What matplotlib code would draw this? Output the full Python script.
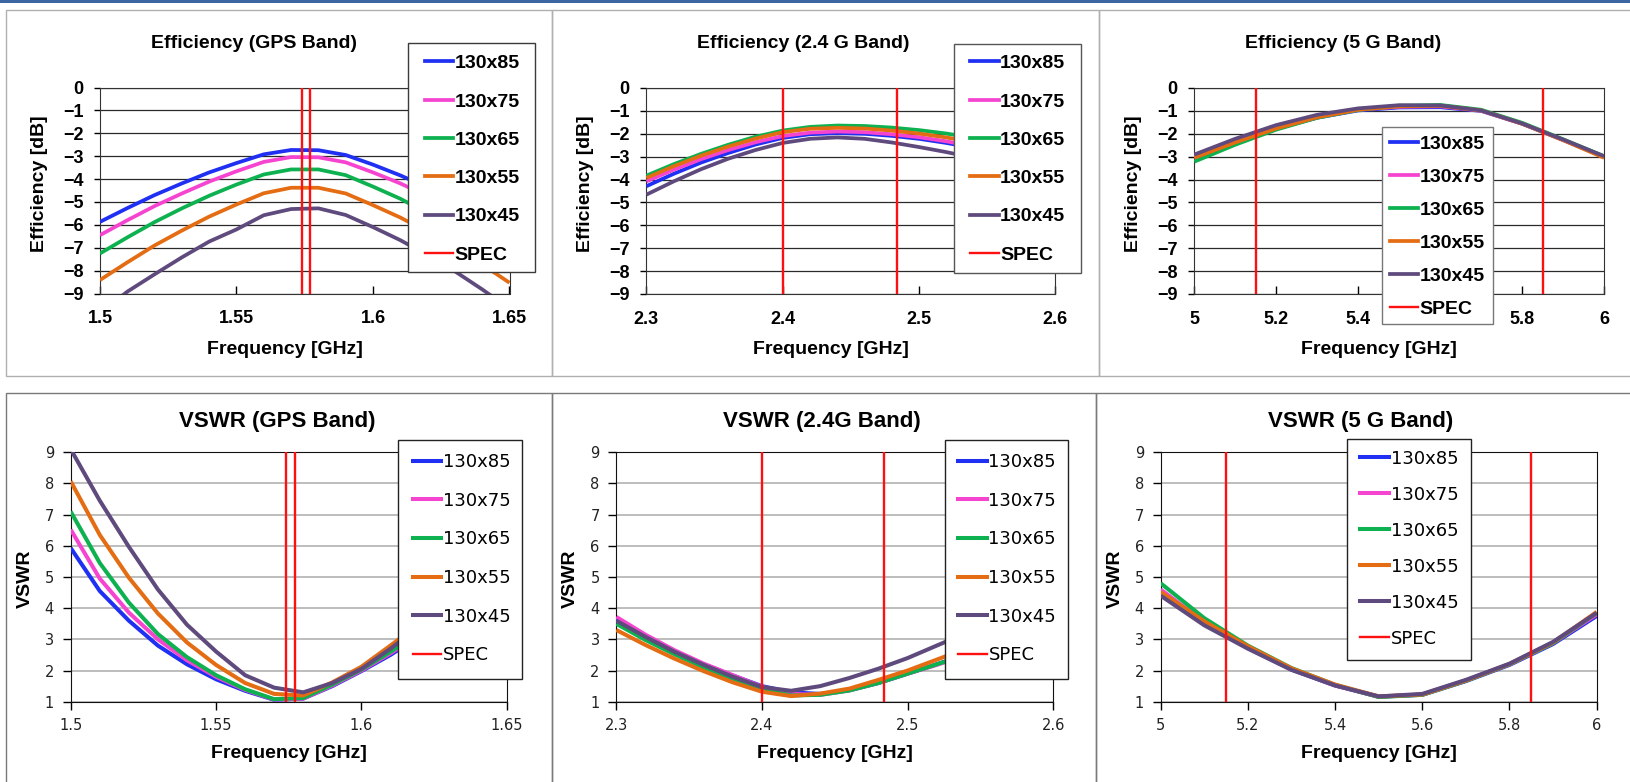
import matplotlib
matplotlib.use('Agg')
import matplotlib.pyplot as plt
from matplotlib.patches import Rectangle
from matplotlib.lines import Line2D

W, H = 1631, 782

names = ['130x85', '130x75', '130x65', '130x55', '130x45']
colors = ['#1f30f2', '#f545d0', '#0db14f', '#e46c12', '#5f4a7d']
spec_color = '#ff1010'

# ---- efficiency [dB] ----
gps_freq = [1.50, 1.51, 1.52, 1.53, 1.54, 1.55, 1.56, 1.57,
            1.58, 1.59, 1.60, 1.61, 1.62, 1.63, 1.64, 1.65]
gps_eff_85 = [-5.87, -5.27, -4.70, -4.19, -3.71, -3.30, -2.92, -2.73,
              -2.74, -2.95, -3.37, -3.84, -4.37, -4.94, -5.58, -6.25]
gps_eff_75 = [-6.45, -5.80, -5.18, -4.63, -4.11, -3.66, -3.25, -3.04,
              -3.05, -3.27, -3.71, -4.19, -4.75, -5.34, -6.01, -6.71]
gps_eff_65 = [-7.25, -6.55, -5.88, -5.28, -4.73, -4.24, -3.80, -3.58,
              -3.58, -3.83, -4.33, -4.86, -5.49, -6.15, -6.89, -7.68]
gps_eff_55 = [-8.41, -7.64, -6.90, -6.25, -5.64, -5.11, -4.62, -4.38,
              -4.38, -4.63, -5.14, -5.68, -6.31, -6.98, -7.73, -8.53]
gps_eff_45 = [-9.86, -8.92, -8.16, -7.42, -6.73, -6.20, -5.58, -5.31,
              -5.28, -5.57, -6.10, -6.67, -7.33, -8.03, -8.82, -9.66]

g24_freq = [2.30, 2.32, 2.34, 2.36, 2.38, 2.40, 2.42, 2.44,
            2.46, 2.48, 2.50, 2.52, 2.54, 2.56, 2.58, 2.60]
g24_eff_85 = [-4.29, -3.75, -3.26, -2.84, -2.47, -2.18, -2.02, -1.97,
              -2.00, -2.09, -2.22, -2.40, -2.62, -2.88, -3.17, -3.50]
g24_eff_75 = [-4.08, -3.57, -3.11, -2.71, -2.37, -2.10, -1.95, -1.90,
              -1.93, -2.02, -2.15, -2.33, -2.55, -2.80, -3.08, -3.40]
g24_eff_65 = [-3.83, -3.33, -2.88, -2.48, -2.13, -1.86, -1.70, -1.64,
              -1.66, -1.73, -1.84, -1.99, -2.18, -2.40, -2.66, -2.95]
g24_eff_55 = [-3.93, -3.42, -2.96, -2.56, -2.21, -1.93, -1.78, -1.74,
              -1.77, -1.86, -1.99, -2.16, -2.37, -2.61, -2.88, -3.18]
g24_eff_45 = [-4.66, -4.08, -3.55, -3.09, -2.71, -2.40, -2.22, -2.16,
              -2.22, -2.38, -2.58, -2.80, -3.05, -3.33, -3.63, -3.95]

g5_freq = [5.0, 5.1, 5.2, 5.3, 5.4, 5.5, 5.6, 5.7, 5.8, 5.9, 6.0]
g5_eff_85 = [-3.05, -2.38, -1.78, -1.30, -0.98, -0.85, -0.84, -1.00, -1.56, -2.27, -3.00]
g5_eff_75 = [-3.00, -2.33, -1.74, -1.27, -0.95, -0.82, -0.80, -0.99, -1.56, -2.27, -3.01]
g5_eff_65 = [-3.22, -2.48, -1.82, -1.30, -0.96, -0.78, -0.74, -0.95, -1.52, -2.24, -2.98]
g5_eff_55 = [-3.05, -2.38, -1.77, -1.28, -0.95, -0.80, -0.78, -0.98, -1.56, -2.28, -3.05]
g5_eff_45 = [-2.91, -2.22, -1.62, -1.17, -0.89, -0.75, -0.76, -0.98, -1.55, -2.25, -2.98]

# ---- VSWR ----
gps_vswr_85 = [5.93, 4.55, 3.60, 2.80, 2.20, 1.72, 1.35, 1.06,
               1.10, 1.50, 1.98, 2.50, 3.10, 3.75, 4.40, 5.10]
gps_vswr_75 = [6.52, 4.95, 3.86, 3.00, 2.33, 1.80, 1.38, 1.07,
               1.10, 1.52, 2.00, 2.55, 3.15, 3.80, 4.45, 5.15]
gps_vswr_65 = [7.10, 5.45, 4.18, 3.17, 2.43, 1.85, 1.40, 1.08,
               1.12, 1.55, 2.03, 2.60, 3.20, 3.85, 4.50, 5.20]
gps_vswr_55 = [8.07, 6.35, 4.98, 3.83, 2.90, 2.18, 1.60, 1.25,
               1.20, 1.62, 2.12, 2.80, 3.50, 4.20, 4.90, 5.60]
gps_vswr_45 = [9.10, 7.45, 5.97, 4.60, 3.47, 2.61, 1.85, 1.45,
               1.30, 1.60, 2.05, 2.70, 3.40, 4.10, 4.80, 5.50]

g24_vswr_85 = [3.65, 3.10, 2.62, 2.20, 1.84, 1.50, 1.30, 1.25,
               1.37, 1.60, 1.90, 2.20, 2.52, 2.87, 3.22, 3.60]
g24_vswr_75 = [3.72, 3.15, 2.65, 2.22, 1.85, 1.48, 1.25, 1.22,
               1.36, 1.60, 1.90, 2.18, 2.50, 2.85, 3.20, 3.60]
g24_vswr_65 = [3.50, 2.98, 2.52, 2.10, 1.73, 1.40, 1.20, 1.22,
               1.36, 1.60, 1.90, 2.20, 2.50, 2.85, 3.20, 3.58]
g24_vswr_55 = [3.30, 2.82, 2.38, 1.98, 1.62, 1.32, 1.18, 1.26,
               1.42, 1.70, 2.00, 2.35, 2.70, 3.05, 3.45, 3.85]
g24_vswr_45 = [3.60, 3.08, 2.60, 2.18, 1.80, 1.47, 1.35, 1.50,
               1.76, 2.06, 2.40, 2.80, 3.20, 3.60, 4.00, 4.40]

g5_vswr_85 = [4.45, 3.50, 2.72, 2.03, 1.52, 1.16, 1.22, 1.66, 2.18, 2.85, 3.75]
g5_vswr_75 = [4.60, 3.55, 2.74, 2.04, 1.52, 1.16, 1.23, 1.68, 2.20, 2.88, 3.80]
g5_vswr_65 = [4.80, 3.68, 2.80, 2.08, 1.54, 1.15, 1.22, 1.67, 2.20, 2.88, 3.85]
g5_vswr_55 = [4.52, 3.58, 2.78, 2.07, 1.55, 1.17, 1.23, 1.68, 2.21, 2.90, 3.88]
g5_vswr_45 = [4.40, 3.45, 2.70, 2.02, 1.52, 1.17, 1.25, 1.70, 2.22, 2.92, 3.85]

# band edges (SPEC)
gps_spec = [1.574, 1.577]
g24_spec = [2.4, 2.4835]
g5_spec = [5.15, 5.85]

gps_xticks = [1.5, 1.55, 1.6, 1.65]
g24_xticks = [2.3, 2.4, 2.5, 2.6]
g5_xticks = [5.0, 5.2, 5.4, 5.6, 5.8, 6.0]
eff_yticks = [0, -1, -2, -3, -4, -5, -6, -7, -8, -9]
vswr_yticks = [1, 2, 3, 4, 5, 6, 7, 8, 9]


def fig_rect(x0, y0, x1, y1):
    return [x0 / W, 1 - y1 / H, (x1 - x0) / W, (y1 - y0) / H]


def fig_xy(x, y):
    return (x / W, 1 - y / H)


fig = plt.figure(figsize=(W / 100, H / 100), dpi=100)

# window frames + blue strip at top
fig.add_artist(Rectangle((0, 1 - 3 / H), 1, 3 / H, transform=fig.transFigure,
                         facecolor='#3b66a3', edgecolor='none', zorder=-2))
for box, ec in [((6.5, 9.5, 552, 376), '#b0b0b0'), ((552, 9.5, 1099, 376), '#b0b0b0'),
                ((1099, 9.5, 1640, 376), '#b0b0b0'), ((6.5, 393, 552, 800), '#7a7a7a'),
                ((552.5, 393, 1096, 800), '#7a7a7a'), ((1096, 393, 1640, 800), '#7a7a7a')]:
    r = fig_rect(*box)
    fig.add_artist(Rectangle((r[0], r[1]), r[2], r[3], transform=fig.transFigure,
                             facecolor='none', edgecolor=ec, lw=1.0, zorder=-1))

top_font = dict(family='Liberation Sans', weight='bold')


def draw_panel(box, freq, curves, spec, xticks, yticks, top):
    ax = fig.add_axes(fig_rect(*box))
    lw = 2.7 if top else 2.9
    for vals, c in zip(curves, colors):
        ax.plot(freq, vals, color=c, lw=lw, solid_capstyle='butt', zorder=3)
    for s in spec:
        ax.axvline(s, color=spec_color, lw=1.7, zorder=4)
    ax.set_xlim(min(xticks), max(xticks))
    ax.set_ylim(min(yticks), max(yticks))
    xlab = ['%g' % v for v in xticks]
    ylab = [str(v).replace('-', '\u2212') for v in yticks]
    if top:
        ax.set_xticks(xticks, xlab, fontsize=13, **top_font)
        ax.set_yticks(yticks, ylab, fontsize=13, **top_font)
        ax.tick_params(axis='x', direction='in', length=6, width=1, pad=12)
        ax.tick_params(axis='y', direction='out', length=4, width=1, pad=8)
        ax.yaxis.grid(True, color='#2a2a2a', lw=0.9)
        for sp in ax.spines.values():
            sp.set_color('#333333')
    else:
        ax.set_xticks(xticks, xlab, fontsize=10.5, family='DejaVu Sans', color='#222222')
        ax.set_yticks(yticks, ylab, fontsize=10.5, family='DejaVu Sans', color='#222222')
        ax.tick_params(axis='both', direction='out', length=6, width=1, pad=6)
        ax.yaxis.grid(True, color='#bdbdbd', lw=1.4)
        for sp in ax.spines.values():
            sp.set_color('#111111')
    ax.set_axisbelow(True)
    return ax


def add_legend(box, hx, y_first, y_last, fontprops, fs_px, handle_px, curve_lw, ec, text_h):
    r = fig_rect(*box)
    fig.add_artist(Rectangle((r[0], r[1]), r[2], r[3], transform=fig.transFigure,
                             facecolor='white', edgecolor=ec, lw=1.0, zorder=4))
    handles = [Line2D([], [], color=c, lw=curve_lw) for c in colors]
    handles.append(Line2D([], [], color=spec_color, lw=1.7))
    pitch = (y_last - y_first) / 5.0
    spacing = (pitch - text_h * fs_px) / fs_px
    leg = fig.legend(handles, names + ['SPEC'], loc='center left',
                     bbox_to_anchor=fig_xy(hx, (y_first + y_last) / 2),
                     frameon=False, borderpad=0, borderaxespad=0,
                     handlelength=handle_px / fs_px, handletextpad=0.08,
                     labelspacing=spacing, prop=fontprops)
    leg.set_zorder(5)


# ---------------- top row: efficiency ----------------
eff_panels = [
    ((100, 87.5, 509.5, 293.5), gps_freq,
     [gps_eff_85, gps_eff_75, gps_eff_65, gps_eff_55, gps_eff_45], gps_spec, gps_xticks,
     'Efficiency (GPS Band)', 254.5, 285, 40),
    ((646.4, 88, 1055.4, 294), g24_freq,
     [g24_eff_85, g24_eff_75, g24_eff_65, g24_eff_55, g24_eff_45], g24_spec, g24_xticks,
     'Efficiency (2.4 G Band)', 803.5, 831, 586),
    ((1194.2, 88, 1604.1, 294), g5_freq,
     [g5_eff_85, g5_eff_75, g5_eff_65, g5_eff_55, g5_eff_45], g5_spec, g5_xticks,
     'Efficiency (5 G Band)', 1343.5, 1379, 1134),
]
for box, freq, curves, spec, xt, title, tx, lx, yx in eff_panels:
    draw_panel(box, freq, curves, spec, xt, eff_yticks, True)
    fig.text(*fig_xy(tx, 44), title, ha='center', va='center', fontsize=14, **top_font)
    fig.text(*fig_xy(lx, 349), 'Frequency [GHz]', ha='center', va='center',
             fontsize=14, **top_font)
    fig.text(*fig_xy(yx, 184), 'Efficiency [dB]', ha='center', va='center',
             rotation=90, fontsize=14, **top_font)

top_leg_font = {'family': 'Liberation Sans', 'weight': 'bold', 'size': 14}
add_legend((408, 43.5, 535, 271.5), 425, 63.3, 255, top_leg_font, 19.44, 28, 2.7, '#3a3a3a', 0.91)
add_legend((954, 43.5, 1081, 272.5), 970.5, 63.3, 255, top_leg_font, 19.44, 28, 2.7, '#555555', 0.91)
add_legend((1382, 126.7, 1492.7, 324), 1390.2, 144, 309.3, top_leg_font, 19.44, 28, 2.7, '#777777', 0.91)

# ---------------- bottom row: VSWR ----------------
vswr_panels = [
    ((70.7, 452.3, 506.7, 701.7), gps_freq,
     [gps_vswr_85, gps_vswr_75, gps_vswr_65, gps_vswr_55, gps_vswr_45], gps_spec, gps_xticks,
     'VSWR (GPS Band)', 277, 289, 25),
    ((616.3, 452.3, 1053.3, 701.7), g24_freq,
     [g24_vswr_85, g24_vswr_75, g24_vswr_65, g24_vswr_55, g24_vswr_45], g24_spec, g24_xticks,
     'VSWR (2.4G Band)', 822, 834.6, 570),
    ((1160.7, 452.3, 1596.7, 701.7), g5_freq,
     [g5_vswr_85, g5_vswr_75, g5_vswr_65, g5_vswr_55, g5_vswr_45], g5_spec, g5_xticks,
     'VSWR (5 G Band)', 1361, 1379, 1115),
]
for box, freq, curves, spec, xt, title, tx, lx, yx in vswr_panels:
    draw_panel(box, freq, curves, spec, xt, vswr_yticks, False)
    fig.text(*fig_xy(tx, 421), title, ha='center', va='center', fontsize=16, **top_font)
    fig.text(*fig_xy(lx, 753), 'Frequency [GHz]', ha='center', va='center',
             fontsize=14, **top_font)
    fig.text(*fig_xy(yx, 578.5), 'VSWR', ha='center', va='center',
             rotation=90, fontsize=14, **top_font)

bot_leg_font = {'family': 'DejaVu Sans', 'size': 13}
add_legend((398, 439.5, 522, 678.5), 412.5, 460, 657.3, bot_leg_font, 18.06, 29, 2.9, '#222222', 1.04)
add_legend((944.6, 439.5, 1068, 678.5), 958, 460, 657.3, bot_leg_font, 18.06, 29, 2.9, '#222222', 1.04)
add_legend((1347, 438.5, 1470.6, 660), 1360.2, 456.7, 640.7, bot_leg_font, 18.06, 29, 2.9, '#222222', 1.04)

fig.savefig('out.png', dpi=100)
